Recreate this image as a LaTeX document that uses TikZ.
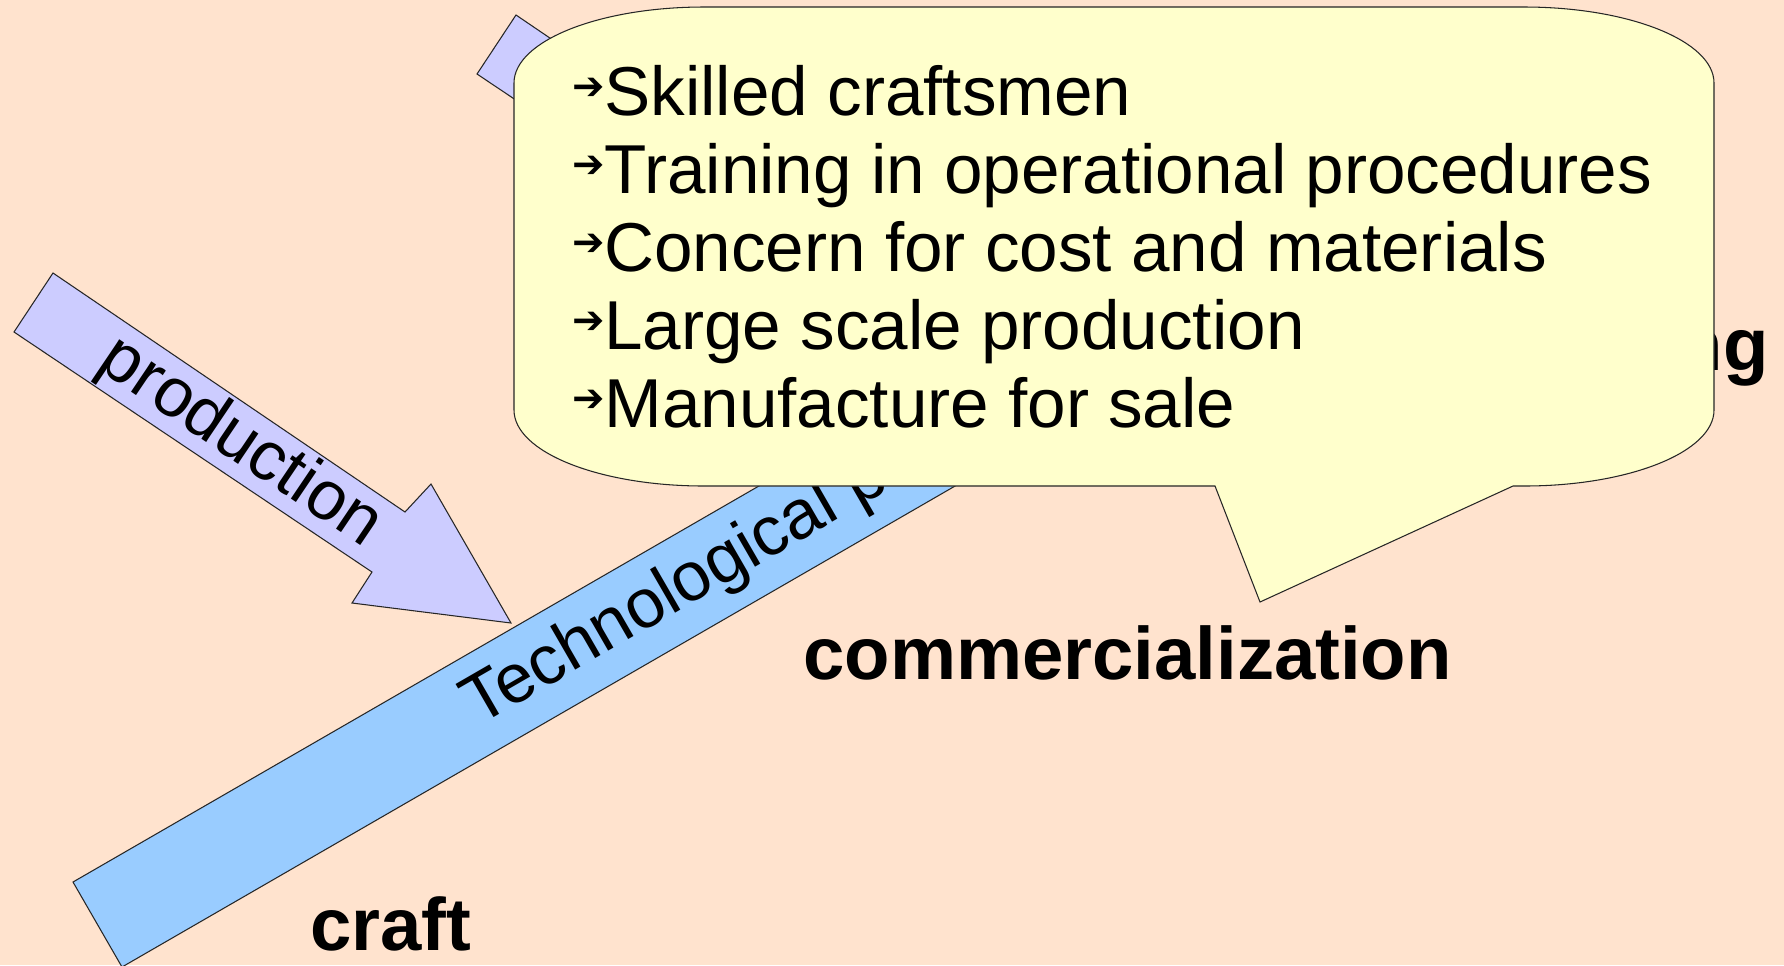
\documentclass[tikz,border=0pt]{standalone}
\usepackage{fontspec}
\setmainfont{Liberation Sans}
\newfontfamily\arrowfont{DejaVu Sans}
\definecolor{bg}{HTML}{FFE3CE}
\definecolor{lilac}{HTML}{CCCCFF}
\definecolor{sky}{HTML}{99CCFF}
\definecolor{note}{HTML}{FFFFCC}
\begin{document}
\begin{tikzpicture}[x=0.02cm,y=-0.02cm,
  outl/.style={draw=black!85, line width=0.6pt},
  regtext/.style={font=\fontsize{39.4}{44}\selectfont, inner sep=0pt},
  boldtext/.style={font=\fontsize{42.3}{48}\selectfont\bfseries, inner sep=0pt},
  bul/.style={font=\arrowfont\bfseries\fontsize{22}{24}\selectfont, inner sep=0pt, anchor=west}]
\useasboundingbox (0,0) rectangle (1784,965);
\fill[bg] (0,0) rectangle (1784,965);
% arrow mostly hidden behind the callout
\begin{scope}[shift={(463,-258)}]
  \draw[outl, fill=lilac] (53,273) -- (405,512) -- (431,484) -- (511,623) -- (352,603) -- (372,572) -- (14,332) -- cycle;
\end{scope}
% production arrow
\draw[outl, fill=lilac] (53,273) -- (405,512) -- (431,484) -- (511,623) -- (352,603) -- (372,572) -- (14,332) -- cycle;
\node[regtext, rotate=-34, anchor=base] (prod) at (230,458) {production};
% technological bar
\draw[outl, fill=sky] (73,882) -- (939,382) -- (988,467) -- (122,967) -- cycle;
\node[regtext, rotate=30, anchor=base west] (tech) at (478,727) {Technological p};
% labels
\node[boldtext, anchor=base west] (comm) at (803,679) {commercialization};
\node[boldtext, anchor=base west] (craft) at (310,950) {craft};
\node[boldtext, anchor=base east] (ng) at (1769,370) {ng};
% callout
\draw[outl, fill=note] (514,83) .. controls (514,41) and (599,7) .. (704,7) -- (1524,7)
  .. controls (1629,7) and (1714,41) .. (1714,83) -- (1714,410)
  .. controls (1714,452) and (1629,486) .. (1524,486) -- (1513,486) -- (1260,602) -- (1215,486) -- (704,486)
  .. controls (599,486) and (514,452) .. (514,410) -- cycle;
\foreach \txt [count=\i] in {Skilled craftsmen, Training in operational procedures, Concern for cost and materials, Large scale production, Manufacture for sale} {
  \node[regtext, anchor=base west] (item\i) at (604, 37+78*\i) {\txt};
  \node[bul] (mark\i) at (572, 11+78*\i) {➔};
}
\end{tikzpicture}
\end{document}
